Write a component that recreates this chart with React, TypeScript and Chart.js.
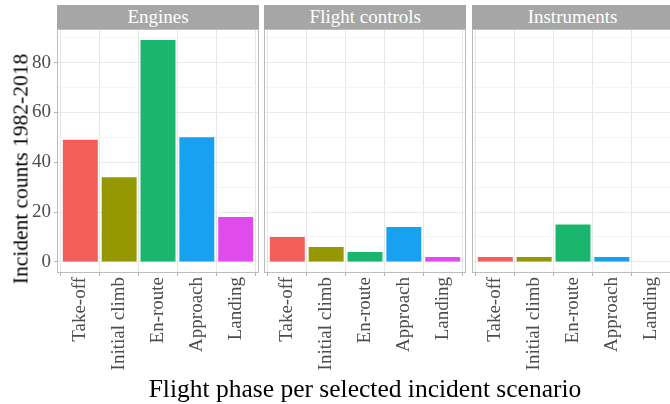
import React, { useEffect, useRef } from "react";
import { Chart, registerables } from "chart.js";

Chart.register(...registerables);

// Flight phases shown on every panel's x axis
const phases = ["Take-off", "Initial climb", "En-route", "Approach", "Landing"];
// One panel per incident scenario
const facets = ["Engines", "Flight controls", "Instruments"];
// Incident counts per phase, 1982-2018
const engines = [49, 34, 89, 50, 18];
const flightControls = [10, 6, 4, 14, 2];
const instruments = [2, 2, 15, 2, 0];
const facetValues = [engines, flightControls, instruments];
// Fill colour for each phase
const phaseColors = ["#F35E5A", "#959800", "#1AB66E", "#17A1F0", "#E04BEE"];
// Labelled y ticks; minor grid lines fall halfway between them
const yTicks = [0, 20, 40, 60, 80];
const yMinorTicks = [10, 30, 50, 70, 90];

const FONT = "'Liberation Serif', 'Times New Roman', serif";
const Y_MIN = -4.45;
const Y_MAX = 93.45;

// layout (px)
const PANEL_TOP = 29;
const PANEL_H = 244;
const PANEL_W = 202;
const PANEL_LEFTS = [57, 264.3, 471.5];
const STRIP_TOP = 5;
const Y_AXIS_W = 57;
const CANVAS_H = 404 - PANEL_TOP;

const panelBorder = {
  id: "panelBorder",
  afterDraw(chart: Chart) {
    const { ctx, chartArea } = chart;
    ctx.save();
    ctx.strokeStyle = "#BDBDBD";
    ctx.lineWidth = 1;
    ctx.strokeRect(
      Math.round(chartArea.left) + 0.5,
      Math.round(chartArea.top) + 0.5,
      Math.round(chartArea.right - chartArea.left) - 1,
      Math.round(chartArea.bottom - chartArea.top) - 1
    );
    ctx.restore();
  },
};

function Panel({ index }: { index: number }) {
  const ref = useRef<HTMLCanvasElement | null>(null);
  const first = index === 0;
  const axisW = first ? Y_AXIS_W : 0;
  const left = PANEL_LEFTS[index] - axisW;
  const width = PANEL_W + axisW;

  useEffect(() => {
    if (!ref.current) return;
    const values = facetValues[index];
    const chart = new Chart(ref.current, {
      type: "bar",
      data: {
        datasets: [
          {
            data: values.map((v, i) => ({ x: i + 1, y: v })),
            backgroundColor: phaseColors,
            borderWidth: 0,
            barPercentage: 0.9,
            categoryPercentage: 1,
          },
        ],
      },
      options: {
        responsive: false,
        animation: false,
        events: [],
        layout: { padding: 0 },
        plugins: { legend: { display: false }, tooltip: { enabled: false } },
        scales: {
          x: {
            type: "linear",
            min: 0.4,
            max: 5.6,
            offset: false,
            afterBuildTicks: (s: any) => {
              s.ticks = phases.map((_, i) => ({ value: i + 1 }));
            },
            afterFit: (s: any) => {
              s.height = CANVAS_H - PANEL_H;
              s.paddingLeft = 0;
              s.paddingRight = 0;
            },
            border: { display: false },
            grid: {
              color: "#E6E6E6",
              lineWidth: 1,
              drawTicks: true,
              tickLength: 3,
              tickColor: "#B3B3B3",
            },
            ticks: {
              autoSkip: false,
              minRotation: 90,
              maxRotation: 90,
              padding: 1,
              color: "#4D4D4D",
              font: { family: FONT, size: 19 },
              callback: (v: any) => phases[Number(v) - 1],
            },
          },
          y: {
            type: "linear",
            min: Y_MIN,
            max: Y_MAX,
            afterBuildTicks: (s: any) => {
              s.ticks = [...yTicks, ...yMinorTicks]
                .sort((a, b) => a - b)
                .map((v) => ({ value: v }));
            },
            afterFit: (s: any) => {
              s.width = axisW;
              s.paddingTop = 0;
              s.paddingBottom = 0;
            },
            border: { display: false },
            grid: {
              color: (c: any) =>
                yTicks.includes(c.tick?.value) ? "#E9E9E9" : "#F4F4F4",
              lineWidth: 1,
              drawTicks: first,
              tickLength: 3,
              tickColor: (c: any) =>
                yTicks.includes(c.tick?.value) ? "#B3B3B3" : "rgba(0,0,0,0)",
            },
            ticks: {
              display: first,
              padding: 3,
              color: "#4D4D4D",
              font: { family: FONT, size: 19 },
              callback: (v: any) => (yTicks.includes(Number(v)) ? String(v) : ""),
            },
          },
        },
      },
      plugins: [panelBorder],
    } as any);
    return () => chart.destroy();
  }, [index]);

  return (
    <>
      <div
        style={{
          position: "absolute",
          left: PANEL_LEFTS[index],
          top: STRIP_TOP,
          width: PANEL_W,
          height: PANEL_TOP - STRIP_TOP,
          background: "#A6A6A6",
          color: "#FFFFFF",
          fontFamily: FONT,
          fontSize: 19,
          display: "flex",
          alignItems: "center",
          justifyContent: "center",
          whiteSpace: "nowrap",
        }}
      >
        {facets[index]}
      </div>
      <canvas
        ref={ref}
        width={width}
        height={CANVAS_H}
        style={{ position: "absolute", left, top: PANEL_TOP, width, height: CANVAS_H }}
      />
    </>
  );
}

export default function App() {
  return (
    <div
      style={{
        position: "absolute",
        left: 0,
        top: 0,
        width: 670,
        height: 404,
        overflow: "hidden",
        background: "#FFFFFF",
      }}
    >
      {facets.map((_, i) => (
        <Panel key={i} index={i} />
      ))}
      <div
        style={{
          position: "absolute",
          left: 21,
          top: 169,
          transform: "translate(-50%, -50%) rotate(-90deg)",
          fontFamily: FONT,
          fontSize: 21.5,
          color: "#000000",
          whiteSpace: "nowrap",
        }}
      >
        Incident counts 1982-2018
      </div>
      <div
        style={{
          position: "absolute",
          left: 365,
          top: 374,
          transform: "translateX(-50%)",
          fontFamily: FONT,
          fontSize: 25.5,
          color: "#000000",
          whiteSpace: "nowrap",
        }}
      >
        Flight phase per selected incident scenario
      </div>
    </div>
  );
}
